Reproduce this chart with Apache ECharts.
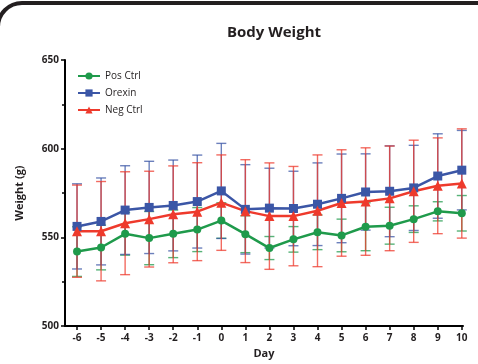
<!DOCTYPE html>
<html>
<head>
<meta charset="utf-8">
<script src="https://cdn.jsdelivr.net/npm/echarts@6/dist/echarts.min.js"></script>
<style>
html, body { margin: 0; padding: 0; background: #fff; }
#chart { width: 478px; height: 364px; }
</style>
</head>
<body>
<div id="chart"></div>
<script>
// days on the x axis
var days = [-6, -5, -4, -3, -2, -1, 0, 1, 2, 3, 4, 5, 6, 7, 8, 9, 10];
var yTicks = [500, 550, 600, 650];

// mean body weight (g) and error (+/-)
var posCtrl = [542, 544.3, 552, 549.6, 552, 554.4, 559.5, 551.8, 544, 548.9, 552.9, 551.1, 556, 556.6, 560.3, 564.7, 563.6];
var posErr = [14, 12.6, 12, 15, 13.4, 12.4, 10, 10.4, 6.5, 7.2, 9.8, 9.2, 13.5, 10.4, 7.5, 5.4, 10];
var orexin = [556.2, 559, 565.4, 566.9, 568, 570.2, 576.2, 565.8, 566.5, 566.3, 568.7, 572, 575.6, 576, 577.9, 584.6, 587.9];
var orexinErr = [24, 24.5, 25, 26, 25.6, 26.2, 26.8, 25.2, 22.5, 21, 23.3, 25, 21.5, 25.6, 24, 23.8, 22.4];
var negCtrl = [553.5, 553.5, 558, 560.3, 563, 564.5, 569.6, 564.8, 562, 562, 565, 569.4, 570.2, 572, 576, 579.1, 580.4];
var negErr = [26, 28, 29, 27, 27.3, 27.6, 26.9, 29, 30, 28, 31.5, 30, 30.3, 29.5, 28.8, 27, 30.8];

var green = '#1f9a4b';
var blue = '#3b56a6';
var red = '#ee3a2c';
var font = 'Open Sans';

var chart = echarts.init(document.getElementById('chart'));

function pairs(vals) {
	return days.map(function (d, i) { return [d, vals[i]]; });
}
function errData(vals, err) {
	return days.map(function (d, i) { return [d, vals[i] - err[i], vals[i] + err[i]]; });
}

function errSeries(vals, err, color) {
	return {
		type: 'custom',
		z: 1,
		silent: true,
		data: errData(vals, err),
		encode: { x: 0, y: [1, 2] },
		renderItem: function (params, api) {
			var lo = api.coord([api.value(0), api.value(1)]);
			var hi = api.coord([api.value(0), api.value(2)]);
			var w = 5;
			var st = { stroke: color, lineWidth: 1.4, opacity: 0.75 };
			return {
				type: 'group',
				children: [
					{ type: 'line', shape: { x1: hi[0], y1: hi[1], x2: lo[0], y2: lo[1] }, style: st },
					{ type: 'line', shape: { x1: hi[0] - w, y1: hi[1], x2: hi[0] + w, y2: hi[1] }, style: st },
					{ type: 'line', shape: { x1: lo[0] - w, y1: lo[1], x2: lo[0] + w, y2: lo[1] }, style: st }
				]
			};
		}
	};
}

function lineSeries(name, vals, color, symbol, size) {
	return {
		name: name,
		type: 'line',
		z: 3,
		data: pairs(vals),
		symbol: symbol,
		symbolSize: size,
		showAllSymbol: true,
		color: color,
		lineStyle: { width: 2.5, color: color },
		itemStyle: { color: color }
	};
}

var option = {
	animation: false,
	title: {
		text: 'Body Weight',
		left: 269,
		top: 20,
		textAlign: 'center',
		textStyle: { fontFamily: font, fontSize: 15, fontWeight: 'bold', color: '#231f20' }
	},
	legend: {
		data: ['Pos Ctrl', 'Orexin', 'Neg Ctrl'],
		orient: 'vertical',
		left: 72,
		top: 66,
		itemWidth: 22,
		itemHeight: 9,
		itemGap: 7,
		textStyle: { fontFamily: font, fontSize: 10, color: '#231f20' }
	},
	grid: { left: 65, right: 15, top: 60, bottom: 31 },
	xAxis: {
		type: 'value',
		min: -6.5,
		max: 10.05,
		name: 'Day',
		nameLocation: 'middle',
		nameGap: 20,
		nameTextStyle: { fontFamily: font, fontSize: 11, fontWeight: 'bold', color: '#231f20' },
		splitLine: { show: false },
		axisLine: { onZero: false, lineStyle: { color: '#000', width: 2 } },
		axisTick: { customValues: days, length: 4, lineStyle: { color: '#000', width: 1.5 } },
		axisLabel: { customValues: days, margin: 7, fontFamily: font, fontSize: 10, fontWeight: 'bold', color: '#231f20' }
	},
	yAxis: {
		type: 'value',
		min: 500,
		max: 650,
		interval: 50,
		name: 'Weight (g)',
		nameLocation: 'middle',
		nameGap: 40,
		nameTextStyle: { fontFamily: font, fontSize: 11, fontWeight: 'bold', color: '#231f20' },
		splitLine: { show: false },
		axisLine: { show: true, onZero: false, lineStyle: { color: '#000', width: 2 } },
		axisTick: { show: true, length: 4, lineStyle: { color: '#000', width: 1.5 } },
		minorTick: { show: true, splitNumber: 2, length: 3, lineStyle: { color: '#000', width: 1.5 } },
		axisLabel: { margin: 6, fontFamily: font, fontSize: 10, fontWeight: 'bold', color: '#231f20' }
	},
	graphic: [{
		type: 'rect',
		shape: { x: -2, y: 3, width: 700, height: 700, r: 24 },
		style: { fill: 'none', stroke: '#231f20', lineWidth: 4 },
		z: 100
	}],
	series: [
		errSeries(posCtrl, posErr, green),
		errSeries(orexin, orexinErr, blue),
		errSeries(negCtrl, negErr, red),
		lineSeries('Pos Ctrl', posCtrl, green, 'circle', 8),
		lineSeries('Orexin', orexin, blue, 'rect', 9),
		lineSeries('Neg Ctrl', negCtrl, red, 'triangle', 10)
	]
};

chart.setOption(option);
</script>
</body>
</html>
